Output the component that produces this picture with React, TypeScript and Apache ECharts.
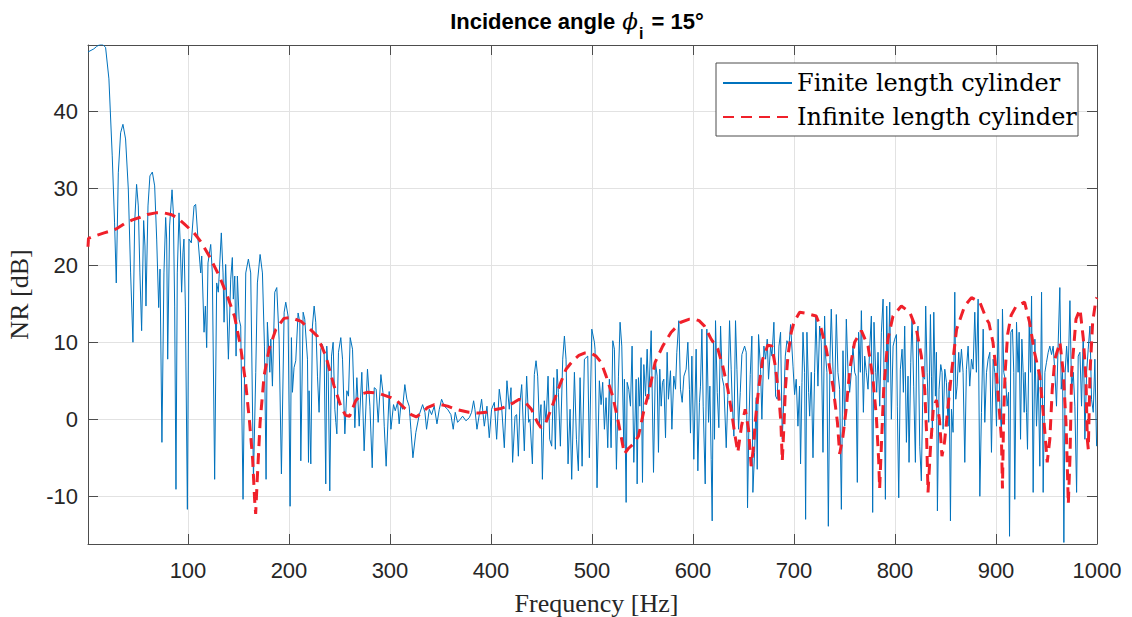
import React, { useEffect, useRef } from 'react';
import * as echarts from 'echarts';

const X_TICKS = [100, 200, 300, 400, 500, 600, 700, 800, 900, 1000];
const Y_TICKS = [-10, 0, 10, 20, 30, 40];
const SERIES_NAMES = ['Finite length cylinder', 'Infinite length cylinder'];
const TITLE_PARTS = ['Incidence angle ', 'ϕ', 'i', ' = 15°'];

const FINITE: [number, number][] = [
[1,47.7],[4,47.9],[6.8,48.1],[9.5,48.4],[11.8,48.6],[15.1,48.7],[18.4,48.3],[21.7,44.2],[25,34.2],[27.3,25.5],[29,17.7],[31,32],[33.3,37.2],[35.6,38.3],[38.2,36.4],[40.9,29.9],[43.2,19],[45.5,10],[47.2,25.5],[49.1,30.5],[50.8,27.7],[52.4,19],[54.1,11.5],[56.1,25.8],[57.4,22.5],[58.4,14.7],[60.4,27.7],[62.3,31.6],[64.7,32.1],[67,30.3],[69,23.4],[71,14.5],[72.3,19.5],[74.2,-3],[76.2,19],[77.9,26.2],[78.9,23.4],[79.9,7.8],[81.8,25.1],[84.2,29.8],[85.5,26.8],[86.8,14.7],[88.1,-9.1],[89.4,19],[91.1,26.8],[92.4,22.5],[93.7,16.5],[95,21.6],[96,23.4],[97.4,14.7],[99.4,-11.7],[101,23.4],[103.3,22.9],[106,27.7],[107.6,27.9],[109.9,23.4],[112.6,19],[113.6,21.2],[115.9,11.3],[117.2,14.7],[118.5,9.3],[119.8,20.3],[122.5,22.7],[124.1,19],[126.4,-7.8],[128.4,17.7],[130,16.5],[133,24.2],[134.7,19],[135.7,12.6],[137.3,20.1],[140,7.8],[142.3,18.2],[143.9,21],[144.9,15.6],[146.3,18.6],[147.6,8.2],[148.9,18.6],[150.6,13],[152.2,12.1],[154.5,-10.4],[157.2,19],[159.8,20.8],[162.1,19],[164.8,-7.8],[167.1,6.1],[168.7,17.7],[171.4,21.4],[173.7,19],[175.7,9.5],[177.3,-7.8],[178.6,12.6],[181,6.1],[182,10.4],[183.6,4.3],[185.9,16.5],[187.9,17.1],[190.2,10.4],[192.5,-7.1],[195.2,13.9],[196.8,15.2],[199.1,13.4],[201.1,-11.3],[202.4,10.6],[203.4,3.5],[205,6.7],[206.7,7.6],[209,13.8],[210.7,12.6],[211.7,-5.4],[214,13.9],[215.6,13],[218.3,7.8],[219.3,-5.6],[219.9,3.7],[221.6,-5.8],[223.2,12.1],[224.9,14.7],[226.5,12.6],[228.2,5.6],[229.8,0.9],[231.5,9.1],[233.1,9.7],[234.8,8.7],[236.4,-8.4],[237.4,9.5],[238.8,6.1],[240.4,-9.3],[242.1,8.2],[243.7,10],[245.4,1.3],[246.4,-0.4],[247.4,-1.9],[249,8.7],[251.3,10.6],[253,7.8],[255.3,-1.9],[257.3,3.7],[258.9,3],[260.6,10.6],[262.9,9.1],[265.2,-1.1],[267.2,5.4],[269.5,-0.9],[272.1,6.1],[274.4,-4.1],[277.7,6.5],[280.1,1.7],[282.4,-6.3],[284.4,4.1],[286.3,3.9],[288.3,-0.4],[291,5.8],[293,3.5],[294.3,-0.9],[296.2,-6.1],[299.2,3.6],[300.9,-1.3],[303.5,1.9],[305.2,1.1],[307.5,2.2],[309.1,-0.6],[310.8,1.9],[312.4,1.3],[314.7,4.5],[316.7,2.6],[319,1.7],[320.7,-1.3],[322.7,-5],[325.6,-1.7],[329,0.6],[332.3,1.9],[334.6,0.9],[336.2,-1.3],[338.9,1.3],[341.2,0.6],[343.8,1.7],[346.5,-0.6],[348.8,1.3],[351.1,2.6],[353.7,1.7],[357,1.3],[360.3,0.6],[362.6,-1.3],[364.6,0.9],[366.9,-0.4],[369.6,0],[371.9,0.4],[375.2,-0.2],[378.5,0.2],[380.8,0.9],[382.8,2.4],[384.1,1.3],[386.1,-1.3],[388.4,0.6],[390.7,2.6],[393.4,-0.9],[396,1.7],[398.3,-2.4],[400.6,1.3],[403.3,2.2],[405.6,-2.6],[408.2,3.9],[410.5,1.7],[413.2,-3.7],[415.8,5],[418.1,1.3],[419.8,4.1],[421.4,-5.6],[423.8,0.4],[425.4,0.6],[427.1,-4.8],[428.7,2.2],[430.4,4.5],[433,-4.1],[435.3,5.6],[437.3,-0.4],[438.6,0],[441,-5.8],[442.9,5.8],[444.6,7.6],[446.2,5.6],[447.9,-0.6],[449.5,1.9],[450.9,-7.8],[452.8,2.4],[454.5,-0.4],[456.5,5.6],[458.1,-2.6],[460.1,-3.5],[462.1,5.4],[463.7,-3.9],[465.4,6.5],[466.7,3.5],[468.7,-3.5],[471,7.8],[472.7,10.8],[474.3,7.8],[476.3,-5.8],[478.3,1.3],[479.9,-7.8],[482.6,6.1],[484.6,-2.6],[486.5,-6.7],[488.2,5.4],[490.2,-6.1],[492.5,7.8],[495.8,8.2],[497.4,-5],[499.8,11.7],[502.4,10],[503,9.1],[505,-8.9],[507.3,5],[509,1.9],[510.6,4.8],[512.3,-1.3],[513.9,2.8],[515.6,-3.7],[517.2,5.2],[518.9,-3.7],[520.6,10.2],[522.2,9.1],[524.2,-6.5],[526.2,5.6],[527.8,12.6],[529.5,9.5],[531.5,-3.5],[532.1,5.2],[533.8,-10.8],[534.8,4.8],[536.4,3.9],[538.1,1.7],[539.7,9.5],[541.4,-5.6],[543.7,5.2],[544.7,-8.4],[546,5.4],[547.3,1.7],[548.6,8],[550,-8.2],[551.3,7.1],[553,3],[554.6,9.1],[556.2,2.6],[558.6,11.5],[560.9,-6.9],[562.8,7.4],[564.5,5.6],[565.8,-4.3],[567.1,6.5],[568.5,1.7],[569.8,4.8],[571.1,5.2],[572.8,-2.4],[574.4,8.7],[575.7,2.6],[577.7,6.3],[579.1,-1.3],[581,5.6],[582.7,3.9],[584,8.7],[586,12.8],[587.6,3.9],[589.3,2.2],[591,5.6],[593.2,6.5],[594.9,10],[596.5,3.9],[597.5,-1.8],[598.9,8.2],[600.8,-5.2],[603.1,9.1],[604.8,-6.7],[606.4,2.2],[607.4,4.3],[608.8,11.7],[610.1,1.7],[612.1,-8.4],[613.7,11.7],[615.4,-0.4],[616.7,4.3],[618,-5.2],[619,-13.2],[620.3,10.2],[621.3,-2.6],[622.3,12.8],[624,3.5],[625.6,-1.1],[627.3,12.1],[628.9,5.4],[630.6,4.3],[632.9,-3.7],[634.5,3],[636.2,12.8],[637.8,6.5],[638.8,2.4],[640.5,-2.2],[642.1,12.8],[643.5,6.5],[645.1,-1.3],[646.8,3.5],[648.4,8.4],[651.1,9.5],[652.7,8.7],[654,-11.5],[655.4,-0.4],[656.7,5.8],[658.3,10.8],[659.3,-9.5],[661,-4.3],[662.6,2.8],[663.6,-6.5],[664.9,11],[666.9,6.5],[668.2,0],[670.2,9.5],[671.9,7.8],[673.5,10.4],[674.8,5.2],[676.8,9.5],[678.2,8.2],[680.1,12.6],[681.8,3],[683.4,2.6],[685.1,9.5],[686.7,11.3],[688.4,-2.6],[690.1,3.2],[691.4,8.2],[693,10.2],[695,9.5],[696.6,12.3],[699,6.9],[700.6,3.2],[702.2,5.2],[703.9,-0.9],[705.5,4.3],[706.5,-5.8],[707.9,4.8],[708.9,11.3],[710.5,6.1],[711.5,-13],[712.8,11.3],[714.5,3.5],[715.5,0.4],[717.1,6.1],[718.8,-5],[720.4,6.1],[721.7,13.4],[723.7,4.3],[725.4,12.1],[727,10],[728.7,-4.3],[730.3,13.4],[731.3,8.2],[732.6,6.1],[734,-13.9],[735.6,7.8],[736.9,14.3],[738.6,6.5],[740.2,2.6],[741.9,13.6],[743.5,6.1],[745.2,3.9],[746.9,-11.7],[748.5,8.9],[750.2,-0.9],[751.8,13],[753.5,6.1],[755.1,3.5],[756.8,6.1],[758.4,9.5],[760.1,6.1],[761.4,5.6],[762.7,-8.2],[764,11.3],[765.7,6.1],[766.7,14.1],[768.7,0.9],[770,8.2],[771.6,6.1],[773.3,3.9],[774.9,9.1],[776.6,13.4],[777.9,-12.1],[779.2,12.6],[780.9,6.1],[781.9,3.5],[783.2,8.7],[784.9,1.7],[786.5,11.3],[788.2,15.6],[789.1,6.1],[790.5,-10.4],[791.8,14.7],[793.1,4.8],[794.8,15.2],[796.4,0],[798.1,9.5],[799.7,10.4],[801.4,11],[802.3,1.7],[803.7,-10.2],[805.3,6.5],[807,9.1],[808.3,3.5],[809.6,12.1],[811.3,-3],[812.9,5.6],[813.9,-5.6],[815.6,7.4],[816.9,13.4],[818.5,4.3],[820.2,-5.6],[821.5,10.4],[822.8,12.1],[824.5,-3.5],[826.1,-8],[827.8,5.6],[829.4,5.2],[830.4,14.7],[831.8,6.1],[833.4,-0.4],[835.1,13.6],[836.1,5.6],[837,-2.2],[838.4,13.9],[840,3],[841,8.7],[842,-11.9],[843.6,3.9],[845.3,7.1],[846.6,6.1],[847.6,-1.3],[849.3,6.5],[850.9,4.8],[852.6,-0.9],[853.6,4.8],[854.9,-13.2],[855.9,1.3],[857.5,-1.7],[859.2,16.5],[860.2,2.6],[861.5,4.3],[863.1,8.7],[864.1,6.1],[865.8,9.1],[867.4,6.1],[869.1,-5.6],[870.7,6.5],[872.4,9.5],[874,4.3],[875.7,7.8],[877.3,6.5],[879,13.9],[880.6,6.1],[882.3,15.6],[884,-10],[885.6,0.9],[887.3,11.7],[888.9,-0.4],[890.6,6.1],[892.2,7.8],[893.9,8.7],[895.5,-4.3],[897.2,7.8],[898.8,6.1],[900.5,-0.9],[902.1,13],[903.8,1.7],[905.4,-1.7],[906.4,14.3],[907.7,6.1],[909.7,4.8],[911,1.7],[912.4,3.5],[913.4,-15.2],[914.7,11.3],[916.3,11.7],[917.6,6.1],[918.6,-10.4],[920.3,12.6],[921.9,6.1],[922.9,11.3],[924.3,-2.6],[925.6,10.4],[926.9,6.1],[927.9,0.9],[928.9,6.1],[930.2,0.9],[931.2,-3.9],[932.9,12.6],[934.2,6.1],[935.2,16],[936.8,-9.5],[938.5,10.4],[940.1,-0.9],[941.8,6.1],[943.4,-6.1],[945.1,16.5],[946.7,-9.5],[948.4,6.1],[950,7.4],[951.7,8.7],[953.3,9.5],[955,8.4],[956.6,9.5],[958.3,6.1],[959.9,1.7],[961.6,10],[963.2,17.1],[964.6,3.9],[965.9,6.1],[967.2,-16],[968.5,6.1],[969.9,9.5],[971.5,6.1],[973.2,15.4],[974.8,3.9],[976.5,6.1],[978.1,1.7],[979.8,-9.5],[981.4,8.2],[983.1,8.7],[984.7,1.7],[986.4,11.3],[988,-2.6],[989.7,6.1],[991.3,9.1],[993,12.1],[994.6,2.6],[996.3,0.9],[997.9,7.8],[999.6,-3.5],[1000,-3.5]
];

const INFINITE: [number, number][] = [
[1,22.4],[1.5,23.5],[5,23.7],[10,23.9],[17,24.2],[25,24.5],[30,24.8],[37,25.4],[45,25.9],[52,26.2],[60,26.6],[68,26.8],[76,26.8],[83,26.6],[89,26.2],[96,25.4],[101,24.8],[106,24.2],[113,23],[121,21.2],[131,18.6],[139,16],[146,13.4],[152,9.5],[157,4.8],[161,-0.4],[164,-5.2],[166,-10.5],[167,-12.3],[168.5,-8],[171.4,-0.4],[175.3,5.6],[180.3,9.1],[187,11.7],[195,13.1],[202,13.2],[212,12.7],[220,11.8],[228,10.8],[236.5,8.2],[244.7,4.3],[251.3,1.7],[256,0.5],[260,0.4],[266,2.4],[272,3.3],[278,3.5],[288,3.4],[301,2.8],[307,2.4],[314,1.5],[321,0.6],[326,0.3],[332,0.9],[337,1.5],[344,1.9],[350,1.9],[357,1.7],[365,1.3],[378,0.9],[388,0.8],[395,0.9],[402,1.2],[410,1.4],[416,1.7],[423,2.2],[428,2.6],[434,2.2],[440,1.3],[443,0.4],[446,-0.4],[449.5,-1.1],[454.5,-0.4],[459.5,1.3],[463,2.6],[467.7,4.3],[474.3,6.5],[481,7.6],[487,8.3],[492.5,8.6],[499,8.6],[504,8.2],[509,7.4],[514,5.6],[520.5,3],[525.5,0],[528.8,-2.2],[532,-4.5],[536,-3.8],[541,-3.2],[546,-2.2],[551,0.9],[557,3.9],[562.5,7.4],[570,9.5],[578.4,11.3],[588,12.6],[596.5,13],[602,13],[606,12.8],[611.4,12.1],[618,10.4],[624.6,9.1],[629.5,6.9],[634.5,3.9],[637.8,1.3],[641.1,-1.7],[644.4,-4.3],[648,-0.9],[651.7,1.3],[655,-1.3],[657.6,-6.1],[660,-3.5],[661.6,-0.4],[664.9,3.9],[669,7.8],[674,9.6],[678,9.5],[681.5,6.9],[684.7,3.5],[687,-0.4],[688.4,-5.4],[690,-1],[691.5,4],[694,8.2],[697.3,11.3],[700,12.6],[705.6,13.9],[710.6,13.8],[716,13.6],[722,13.4],[727,11.7],[732,9.1],[738.6,4.3],[743,-0.4],[745.2,-4.5],[748.5,-2.2],[752,1.7],[755.2,6.5],[760,10],[766.7,11.5],[773.3,9.5],[778.2,5.2],[781.5,0.4],[783.8,-5.2],[784.8,-9],[786.5,-3.5],[788.8,3.9],[793,10.4],[798,13.4],[806.3,14.7],[814.6,13.9],[821.2,11.7],[826.1,8.2],[829.4,3.9],[831.1,-1.3],[832.7,-9.5],[835,-4],[838,1.5],[841,2.5],[844,0],[846.5,-4.8],[849,-3],[852,1],[856,6.1],[861,11.7],[869,14.7],[875.7,15.8],[884,15.2],[890.6,13],[893,12.5],[897,10],[900.3,6.1],[903,1.7],[905.4,-2.6],[906.4,-9],[907.5,0],[909,6],[911.5,11],[915,13.5],[920,14.7],[928.3,15.2],[933.2,12.6],[938.1,8.7],[943.4,5.6],[946.7,0.9],[948.4,-1.7],[950.7,-5.6],[953.3,-2.6],[955.7,3.9],[958.3,7.8],[963.3,10],[966.6,6.1],[969.3,-0.4],[970.6,-6.1],[971.6,-11],[973.3,-4.8],[974.9,6.1],[979.2,13],[983.2,14.3],[986.5,10.4],[989.1,5.2],[990.4,-2.6],[991.4,-3.9],[993.1,6.1],[995.7,12.6],[999,15.6],[1000,15.8]
];

const SANS = "'Liberation Sans', Arial, Helvetica, sans-serif";
const SERIF = "'Liberation Serif', 'Times New Roman', serif";
const LEGEND_SERIF = "'DejaVu Serif', serif";
const PHI_FONT = "'DejaVu Serif', serif";
const AXIS_COLOR = '#4d4d4d';
const TEXT_COLOR = '#262626';
const GRID_COLOR = '#e2e2e2';

function measure(text: string, font: string): number {
  const c = document.createElement('canvas');
  const ctx = c.getContext('2d');
  if (!ctx) return text.length * 11;
  ctx.font = font;
  return ctx.measureText(text).width;
}

export default function App() {
  const ref = useRef<HTMLDivElement>(null);
  useEffect(() => {
    const chart = echarts.init(ref.current!, null, { renderer: 'svg' });

    const fontMain = `bold 22px ${SANS}`;
    const fontPhi = `italic 23px ${PHI_FONT}`;
    const fontSub = `bold 16px ${SANS}`;
    const w0 = measure(TITLE_PARTS[0], fontMain);
    const w1 = measure(TITLE_PARTS[1], fontPhi) + 2;
    const w2 = measure(TITLE_PARTS[2], fontSub) + 2;
    const w3 = measure(TITLE_PARTS[3], fontMain);
    const total = w0 + w1 + w2 + w3;
    const startX = 577 - total / 2;
    const mainY = 21;
    const subY = 33;

    const mirrorX = {
      type: 'value', min: 1, max: 1000, position: 'top',
      axisLine: { show: true, onZero: false, lineStyle: { color: AXIS_COLOR, width: 1 } },
      axisTick: { show: true, inside: true, length: 10, customValues: X_TICKS, lineStyle: { color: AXIS_COLOR } },
      axisLabel: { show: false }, splitLine: { show: false },
    };
    const mirrorY = {
      type: 'value', min: -16.2, max: 48.6, position: 'right',
      axisLine: { show: true, onZero: false, lineStyle: { color: AXIS_COLOR, width: 1 } },
      axisTick: { show: true, inside: true, length: 10, customValues: Y_TICKS, lineStyle: { color: AXIS_COLOR } },
      axisLabel: { show: false }, splitLine: { show: false },
    };
    chart.setOption({
      animation: false,
      backgroundColor: '#ffffff',
      grid: { left: 88, right: 35, top: 45, bottom: 73, show: false, containLabel: false, outerBoundsMode: 'none' },
      xAxis: [
        {
          type: 'value', min: 1, max: 1000, position: 'bottom',
          name: 'Frequency [Hz]', nameLocation: 'middle', nameGap: 46,
          nameTextStyle: { fontFamily: SERIF, fontSize: 26, color: TEXT_COLOR, padding: [0, 0, 0, 8] },
          axisLine: { show: true, onZero: false, lineStyle: { color: AXIS_COLOR, width: 1 } },
          axisTick: { show: true, inside: true, length: 10, customValues: X_TICKS, lineStyle: { color: AXIS_COLOR } },
          axisLabel: { customValues: X_TICKS, color: TEXT_COLOR, fontSize: 22, fontFamily: SANS, margin: 15, formatter: (v: number) => String(v) },
          splitLine: { show: true, lineStyle: { color: GRID_COLOR, width: 1 } },
        },
        mirrorX,
      ],
      yAxis: [
        {
          type: 'value', min: -16.2, max: 48.6, position: 'left',
          name: 'NR [dB]', nameLocation: 'middle', nameGap: 56, nameRotate: 90,
          nameTextStyle: { fontFamily: SERIF, fontSize: 26, color: TEXT_COLOR },
          axisLine: { show: true, onZero: false, lineStyle: { color: AXIS_COLOR, width: 1 } },
          axisTick: { show: true, inside: true, length: 10, customValues: Y_TICKS, lineStyle: { color: AXIS_COLOR } },
          axisLabel: { customValues: Y_TICKS, color: TEXT_COLOR, fontSize: 22, fontFamily: SANS, margin: 10, formatter: (v: number) => String(v) },
          splitLine: { show: true, lineStyle: { color: GRID_COLOR, width: 1 } },
        },
        mirrorY,
      ],
      legend: {
        show: true,
        data: SERIES_NAMES,
        orient: 'vertical',
        left: 722, top: 71,
        padding: 0,
        itemWidth: 69, itemHeight: 24, itemGap: 10,
        itemStyle: { opacity: 0 },
        textStyle: { fontFamily: LEGEND_SERIF, fontSize: 24, color: '#000' },
        selectedMode: false,
        z: 6,
      },
      graphic: [
        {
          type: 'rect', z: 5,
          shape: { x: 716, y: 63, width: 362, height: 73 },
          style: { fill: '#ffffff', stroke: AXIS_COLOR, lineWidth: 1 },
        },
        {
          type: 'text', x: startX, y: mainY, z: 5,
          style: { text: TITLE_PARTS[0], font: fontMain, fill: '#000', align: 'left', verticalAlign: 'middle' },
        },
        {
          type: 'text', x: startX + w0 + 1, y: mainY, z: 5,
          style: { text: TITLE_PARTS[1], font: fontPhi, fill: '#000', align: 'left', verticalAlign: 'middle' },
        },
        {
          type: 'text', x: startX + w0 + w1, y: subY, z: 5,
          style: { text: TITLE_PARTS[2], font: fontSub, fill: '#000', align: 'left', verticalAlign: 'middle' },
        },
        {
          type: 'text', x: startX + w0 + w1 + w2, y: mainY, z: 5,
          style: { text: TITLE_PARTS[3], font: fontMain, fill: '#000', align: 'left', verticalAlign: 'middle' },
        },
      ],
      series: [
        {
          type: 'line', name: SERIES_NAMES[0], data: FINITE,
          xAxisIndex: 0, yAxisIndex: 0, symbol: 'none', showSymbol: false,
          lineStyle: { color: '#0072BD', width: 1 }, itemStyle: { color: '#0072BD' },
          z: 2,
        },
        {
          type: 'line', name: SERIES_NAMES[1], data: INFINITE,
          xAxisIndex: 0, yAxisIndex: 0, symbol: 'none', showSymbol: false,
          lineStyle: { color: '#F0202A', width: 3, type: [11, 7] }, itemStyle: { color: '#F0202A' },
          z: 3,
        },
      ],
    });
    return () => chart.dispose();
  }, []);
  return <div ref={ref} style={{ position: 'absolute', left: 0, top: 0, width: 1132, height: 617, background: '#fff' }} />;
}
